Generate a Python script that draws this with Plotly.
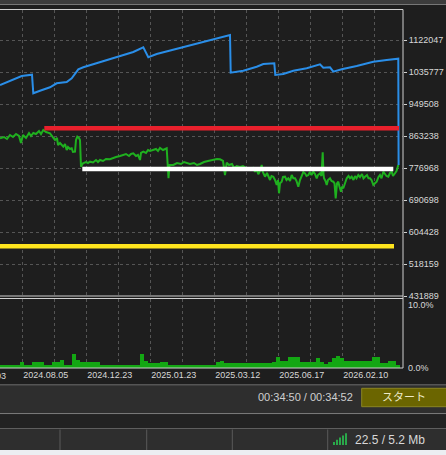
"""MT5 strategy tester style chart: balance / equity / deposit load."""

import plotly.graph_objects as go

# ---- data ----------------------------------------------------------------
balance_x = [0, 21.7, 32, 33.3, 40, 50, 56.7, 66.7, 71.7, 78.3, 83.3, 100, 116.7,
             133.3, 143.3, 148.3, 156.7, 163.3, 176.7, 193.3, 213.3, 220, 230,
             230.7, 243.3, 256.7, 263.3, 274.3, 275.3, 283.3, 293.3, 306.7, 320,
             323.3, 330, 333.3, 341.7, 356.7, 373.3, 386.7, 398.3, 398.6]
balance = [1000745, 1025009, 1028514, 978368, 985378, 994544, 1005328, 1008833,
           1018808, 1043072, 1048464, 1062753, 1077042, 1089713, 1102384, 1075424,
           1084321, 1088904, 1097801, 1108585, 1122065, 1126648, 1135545, 1033906,
           1039298, 1050082, 1057361, 1059248, 1027705, 1030401, 1039298, 1045768,
           1056552, 1047386, 1048464, 1036602, 1043072, 1051969, 1063562, 1068145,
           1071650, 785065]

equity_x = [0, 4, 7, 10, 13, 16, 19, 21, 23, 26, 29, 31, 33.3, 36, 39, 41, 43.3, 46,
            50, 53, 55, 57, 58, 60, 62, 63.3, 65, 66.7, 68, 70, 71.7, 73, 75, 76,
            77.3, 79, 80, 81, 83, 86, 88, 90, 93, 96, 98, 100, 103, 106, 110, 113,
            116, 120, 123.3, 126, 129, 131, 133.3, 136, 138, 140, 141, 143.3, 146,
            148, 150, 153.3, 156, 158, 160, 163, 166.7, 167.7, 168.5, 169.5, 173.3,
            177, 181, 184, 186.7, 190, 194, 197, 200, 204, 208, 213.3, 217, 220,
            223, 225, 226.7, 229, 232, 234, 236.7, 240, 243, 246.7, 250, 253,
            255, 256.5, 258.3, 260, 261.7, 262.8, 265, 267, 270, 271.5, 273.3, 275,
            276.7, 278, 279, 280, 281.7, 283, 285, 286.5, 288.3, 290, 291.7, 293.3,
            295, 296.5, 298.3, 300, 301.7, 303.3, 305, 306.5, 308.3, 310, 311.5,
            313.3, 315, 316.7, 318, 320, 321.5, 322.7, 323.5, 324, 325.5, 326.7,
            328, 330, 331.5, 333.3, 334.5, 335.7, 337, 338.3, 339.5, 341, 342,
            343.3, 345, 346.7, 348.5, 350, 351.7, 353.5, 355, 356.5, 358.3, 360,
            362, 363.5, 365, 367, 368.5, 370, 371.5, 373.3, 375, 376.7, 378.5, 380,
            381.5, 383.3, 385, 386.5, 388.3, 390, 391.7, 393, 395, 396.5, 398.3]
equity = [857048, 860553, 855161, 865945, 860553, 868641, 863249, 844377, 865945,
          857857, 871337, 863249, 871337, 868641, 876729, 868641, 879425, 874033,
          870528, 860553, 852465, 857857, 838985, 844377, 836289, 834402, 841681,
          825505, 833593, 828201, 830088, 820113, 820922, 852465, 861362, 857857,
          852465, 780482, 789648, 793153, 790457, 793962, 791805, 798545, 793153,
          798545, 795849, 801241, 800432, 803937, 806633, 809329, 812025, 814721,
          809329, 814721, 816608, 809329, 812025, 798545, 817417, 820922, 817417,
          825505, 822809, 825505, 828201, 822809, 830897, 825505, 830088, 785065,
          749208, 785065, 785065, 790457, 787761, 793153, 791266, 787761, 790457,
          785065, 787761, 793153, 795849, 798545, 801241, 800432, 795849, 758105,
          791266, 785065, 787761, 776977, 782369, 779673, 782369, 776168, 771585,
          776977,
          767002, 774281, 759992, 768889, 785065, 766193, 753522, 763497, 744625,
          755409, 753522, 744625, 731145, 744625, 708768, 735728, 740042, 752713,
          753522, 744625, 749208, 741929, 758105, 749208, 749208, 741929, 726562,
          744625, 753522, 766193, 762688, 755409, 758105, 766193, 758105, 767002,
          760801, 749208, 758105, 762688, 755409, 819304, 760801, 749208, 741929,
          731145, 744625, 749208, 741929, 740042, 735728, 695288, 735728, 740042,
          726562, 713082, 726562, 722248, 735728, 749208, 755409, 749208, 753522,
          744625, 755409, 749208, 758105, 752713, 760801, 749208, 753522, 758105,
          749208, 749208, 744625, 731145, 735728, 740042, 752713, 758105, 749208,
          767002, 760801, 755409, 753522, 763497, 767002, 755409, 762688, 768889,
          785065]

# horizontal levels: (x start, x end, value)
level_red = ([44.3, 399], 884008)
level_white = ([82.3, 393.3], 774281)
level_yellow = ([-5, 394], 565880)

# deposit load, % per bin of 4 trades
load = [0.43, 0.43, 0.43, 0.43, 0.43, 0.87, 0.43, 0.43, 0.87, 0.87,
        0.87, 0.43, 0.43, 0.87, 0.87, 1.16, 0.43, 0.43, 2.03, 1.16,
        0.87, 0.87, 0.87, 0.87, 0.87, 0.43, 0.43, 0.43, 0.43, 0.43,
        0.43, 0.43, 0.43, 0.43, 0.43, 2.03, 1.01, 0.72, 0.72, 0.72,
        0.87, 0.87, 0.43, 0.43, 0.43, 0.43, 0.43, 0.43, 0.43, 0.43,
        0.43, 0.43, 0.43, 0.43, 0.87, 1.01, 0.72, 0.72, 0.72, 0.72,
        0.72, 0.72, 0.72, 0.72, 0.72, 0.72, 0.72, 0.72, 0.87, 1.59,
        1.01, 1.01, 1.59, 1.59, 1.59, 0.87, 0.87, 0.87, 0.87, 1.45,
        0.87, 0.58, 0.87, 1.45, 1.74, 1.45, 1.01, 1.01, 1.01, 1.01,
        1.01, 1.01, 1.01, 1.59, 1.59, 0.72, 0.72, 1.01, 1.01, 0.43]
load_x = [2 + 4 * i for i in range(len(load))]

y_ticks = [431889, 518159, 604428, 690698, 776968, 863238, 949508, 1035777, 1122047]
x_grid = [22.7, 54.7, 86.7, 118.7, 150.7, 182.7, 214.7, 246.7, 278.7, 310.7, 342.7, 374.7]
x_labels = ["2024.08.05", "", "2024.12.23", "", "2025.01.23", "", "2025.03.12", "",
            "2025.06.17", "", "2026.02.10", ""]
hidden_label = "2024.06.03"

# ---- page geometry (pixels) ----------------------------------------------
W, H = 446, 455
PL, PR, PT, PB = 0, 403, 10, 368  # plot area


def px(x):
    return (x - PL) / (PR - PL)


def py(y):
    return (PB - y) / (PB - PT)


BG = "#1e1e1e"
GRID = "#555555"
TXT = "#d8d8d8"
FONT = "Liberation Sans, Arial, sans-serif"

fig = go.Figure()

fig.add_trace(go.Bar(x=load_x, y=load, width=3.2, xaxis="x", yaxis="y2",
                     marker=dict(color="#13a713", line_width=0)))

fig.add_trace(go.Scatter(x=equity_x, y=equity, mode="lines",
                         line=dict(color="#1fb01f", width=2)))
fig.add_trace(go.Scatter(x=balance_x, y=balance, mode="lines",
                         line=dict(color="#2a8ee8", width=2)))

for (xs, v), col in [(level_red, "#e8202c"), (level_white, "#ffffff"),
                     (level_yellow, "#ffe51e")]:
    fig.add_trace(go.Scatter(x=xs, y=[v, v], mode="lines",
                             line=dict(color=col, width=4.5)))

main_top = 1
main_bot = py(296)
sub_top = py(299)

fig.update_layout(
    width=W, height=H,
    margin=dict(l=PL, r=W - PR, t=PT, b=H - PB, pad=0),
    paper_bgcolor=BG, plot_bgcolor=BG,
    showlegend=False,
    bargap=0,
    font=dict(family=FONT, size=9, color=TXT),
    xaxis=dict(domain=[0, 1], range=[PL, PR], anchor="y2",
               tickvals=x_grid, ticktext=x_labels, ticklabelshift=23,
               ticks="", showgrid=True, gridcolor=GRID, griddash="3px,3px",
               gridwidth=1, zeroline=False, showline=False,
               tickfont=dict(size=9, color=TXT)),
    yaxis=dict(domain=[main_bot, main_top],
               range=[y_ticks[0], y_ticks[0] + (296 - PT) / 32 * 86270],
               side="right", anchor="x",
               tickvals=y_ticks, ticktext=[str(v) for v in y_ticks],
               ticks="outside", ticklen=3, tickcolor="#d0d0d0",
               showgrid=True, gridcolor=GRID, griddash="3px,3px",
               zeroline=False, showline=False,
               tickfont=dict(size=9, color=TXT)),
    yaxis2=dict(domain=[0, sub_top], range=[0, 10], side="right", anchor="x",
                tickvals=[0, 9.1], ticktext=["0.0%", "10.0%"], ticks="",
                showgrid=False, zeroline=False, showline=False,
                ticklabelstandoff=4,
                tickfont=dict(size=9, color=TXT)),
)

shapes = []


def rect(x0, y0, x1, y1, fill, line=None):
    shapes.append(dict(type="rect", xref="paper", yref="paper", layer="above",
                       x0=px(x0), x1=px(x1), y0=py(y0), y1=py(y1),
                       fillcolor=fill, line=dict(width=1 if line else 0,
                                                 color=line or fill)))


def hline(y, x0, x1, color):
    shapes.append(dict(type="line", xref="paper", yref="paper", layer="above",
                       x0=px(x0), x1=px(x1), y0=py(y), y1=py(y),
                       line=dict(color=color, width=1)))


def vline(x, y0, y1, color):
    shapes.append(dict(type="line", xref="paper", yref="paper", layer="above",
                       x0=px(x), x1=px(x), y0=py(y0), y1=py(y1),
                       line=dict(color=color, width=1)))


# top window strip
rect(0, 0, W, 4, "#3c3c3c")
hline(4.5, 0, W, "#777777")

# chart frames
BORDER = "#cfcfcf"
hline(PT - 0.5, 0, PR, BORDER)
hline(296, 0, PR, BORDER)
hline(298.5, 0, PR, BORDER)
hline(PB, 0, PR, BORDER)
vline(PR, PT - 0.5, PB, BORDER)

# lower tester panels
hline(385, 0, W, "#8c8c8c")
rect(0, 385.5, W, 413.5, "#2e2e2e")
hline(413.7, 0, W, "#8c8c8c")
rect(0, 414.2, W, 428.3, "#222222")
hline(428.7, 0, W, "#6e6e6e")
rect(0, 429.2, W, 450, "#2e2e2e")
for sx in [60, 146.7, 232.3, 327.7]:
    vline(sx, 429.5, 450, "#5a5a5a")
rect(0, 450, W, H + 2, "#eceef2")

# start button
rect(361.7, 388.3, W + 2, 406.7, "#6b6500", "#8b8522")

# signal bars icon
for i in range(5):
    x0 = 333 + i * 3
    rect(x0, 445 - (3 + i * 2.2), x0 + 2, 445, "#2aa84a")

fig.update_layout(shapes=shapes)

annotations = [
    dict(x=px(-41.3 + 0.3), y=py(376), text=hidden_label, xanchor="left",
         font=dict(size=9, color=TXT)),
    dict(x=px(305.8), y=py(396.8), text="00:34:50 / 00:34:52", xanchor="center",
         font=dict(size=11, color="#cfcfcf")),
    dict(x=px(404), y=py(396), text="スタート", xanchor="center",
         font=dict(size=11, color="#eeebc8",
                   family="Noto Sans CJK JP, sans-serif")),
    dict(x=px(353), y=py(440), text="22.5 / 5.2 Mb", xanchor="left",
         font=dict(size=12, color="#d8d8d8")),
]
for a in annotations:
    a.update(xref="paper", yref="paper", yanchor="middle", showarrow=False)
fig.update_layout(annotations=annotations)

# page body has a default margin; drop it so the figure sits at the corner
fig.write_html("out.html", config={"displayModeBar": False},
               post_script="document.body.style.margin='0';"
                           "document.body.style.overflow='hidden';")
